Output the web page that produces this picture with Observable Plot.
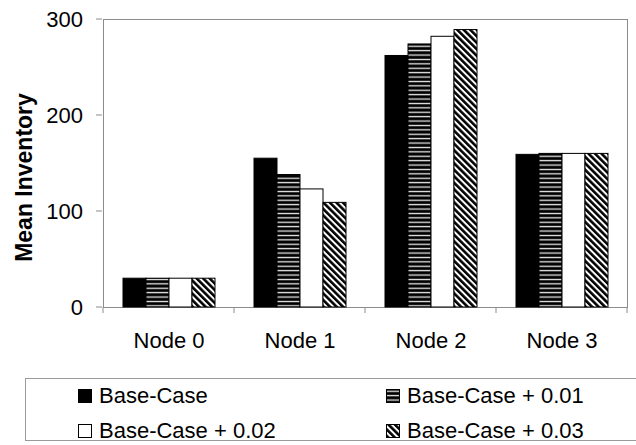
<!DOCTYPE html>
<html>
<head>
<meta charset="utf-8">
<script src="https://cdn.jsdelivr.net/npm/d3@7"></script>
<script src="https://cdn.jsdelivr.net/npm/@observablehq/plot@0.6"></script>
<style>
  body { margin: 0; background: #fff; font-family: "Liberation Sans", Arial, sans-serif; }
  #wrap { position: relative; width: 636px; height: 445px; overflow: hidden; background: #fff; }
  #defs { position: absolute; width: 0; height: 0; }
  .legend { position: absolute; left: 25px; top: 378px; width: 640px; height: 63px;
            border: 1px solid #9a9a9a; border-right: none; box-sizing: border-box; }
  .item { position: absolute; height: 26px; display: flex; align-items: center;
          font-size: 22px; color: #000; white-space: nowrap; }
  .item svg { margin-right: 7px; }
</style>
</head>
<body>
<div id="wrap">
  <svg id="defs" aria-hidden="true">
    <defs>
      <pattern id="hstripe" width="8" height="4.4" patternUnits="userSpaceOnUse">
        <rect width="8" height="4.4" fill="#000"></rect>
        <rect y="1.6" width="8" height="1.3" fill="#ececec"></rect>
      </pattern>
      <pattern id="diag" width="8" height="4.6" patternUnits="userSpaceOnUse" patternTransform="rotate(45)">
        <rect width="8" height="4.6" fill="#000"></rect>
        <rect width="8" height="2" fill="#fff"></rect>
      </pattern>
    </defs>
  </svg>
  <div id="chart"></div>
  <div class="legend" id="legend"></div>
</div>
<script>
// Categories and series
const nodes = ["Node 0", "Node 1", "Node 2", "Node 3"];
const series = ["Base-Case", "Base-Case + 0.01", "Base-Case + 0.02", "Base-Case + 0.03"];

// Mean inventory per node, one array per scenario
const baseCase = [30, 155, 262, 159];
const plus001 = [30, 138, 274, 160];
const plus002 = [30, 123, 282, 160];
const plus003 = [30, 109, 289, 160];

const yTicks = [0, 100, 200, 300];
const yLabel = "Mean Inventory";

// Fill for each series: solid, horizontal stripes, white, diagonal stripes
const fills = ["#000", "url(#hstripe)", "#fff", "url(#diag)"];

const seriesValues = [baseCase, plus001, plus002, plus003];
const data = nodes.flatMap((node, i) =>
  series.map((s, j) => ({node, series: s, value: seriesValues[j][i]}))
);

const gray = "#8c8c8c";
const font = "'Liberation Sans', Arial, sans-serif";
const marginLeft = 102;

const chart = Plot.plot({
  width: 636,
  height: 370,
  marginTop: 19,
  marginRight: 9,
  marginBottom: 63,
  marginLeft,
  style: {fontFamily: font, fontSize: "22px", color: "#000", background: "#fff", overflow: "visible"},
  fx: {domain: nodes, padding: 0},
  x: {domain: series, axis: null, paddingInner: 0, paddingOuter: 0.734},
  y: {domain: [0, 300], axis: null},
  color: {domain: series, range: fills},
  marks: [
    Plot.frame({stroke: gray, facet: "super"}),
    Plot.barY(data, {fx: "node", x: "series", y: "value", fill: "series", stroke: "#000", strokeWidth: 1, inset: 0}),
    Plot.axisFx({anchor: "bottom", tickSize: 0, tickPadding: 25, fontSize: 22, fill: "#000", label: null}),
    Plot.text([yLabel], {text: d => d, frameAnchor: "left", textAnchor: "middle", rotate: -90, dx: -79, dy: 14,
      fontWeight: "bold", fontSize: 23, fill: "#000", facet: "super"})
  ]
});

document.getElementById("chart").appendChild(chart);

const svg = d3.select(chart);
const yScale = chart.scale("y");
const fx = chart.scale("fx");
const y0 = yScale.apply(0);

// Value axis: grey ticks to the left of the frame and their labels, from the plot's y scale
const yAxis = svg.append("g").attr("aria-label", "y-axis");
yAxis.append("g").attr("stroke", gray)
  .selectAll("line").data(yTicks).join("line")
  .attr("x1", marginLeft - 6).attr("x2", marginLeft)
  .attr("y1", d => yScale.apply(d)).attr("y2", d => yScale.apply(d));
yAxis.append("g").attr("fill", "#000").attr("font-size", 22).attr("text-anchor", "end")
  .selectAll("text").data(yTicks).join("text")
  .attr("x", marginLeft - 19).attr("y", d => yScale.apply(d)).attr("dy", "0.36em")
  .text(d => String(d));

// Small ticks on the baseline between the node groups
const bounds = nodes.map(n => fx.apply(n)).concat([fx.apply(nodes[nodes.length - 1]) + fx.bandwidth]);
svg.append("g").attr("stroke", gray)
  .selectAll("line").data(bounds).join("line")
  .attr("x1", d => d).attr("x2", d => d)
  .attr("y1", y0).attr("y2", y0 + 6);

// Legend
const legend = d3.select("#legend");
const cols = [52, 360];
const rows = [4, 39];
series.forEach((s, i) => {
  const item = legend.append("div").attr("class", "item")
    .style("left", cols[i % 2] + "px").style("top", rows[Math.floor(i / 2)] + "px");
  const sw = item.append("svg").attr("width", 14).attr("height", 14);
  sw.append("rect").attr("x", 0.5).attr("y", 0.5).attr("width", 13).attr("height", 13)
    .attr("fill", fills[i]).attr("stroke", "#000");
  item.append("span").text(s);
});
</script>
</body>
</html>
